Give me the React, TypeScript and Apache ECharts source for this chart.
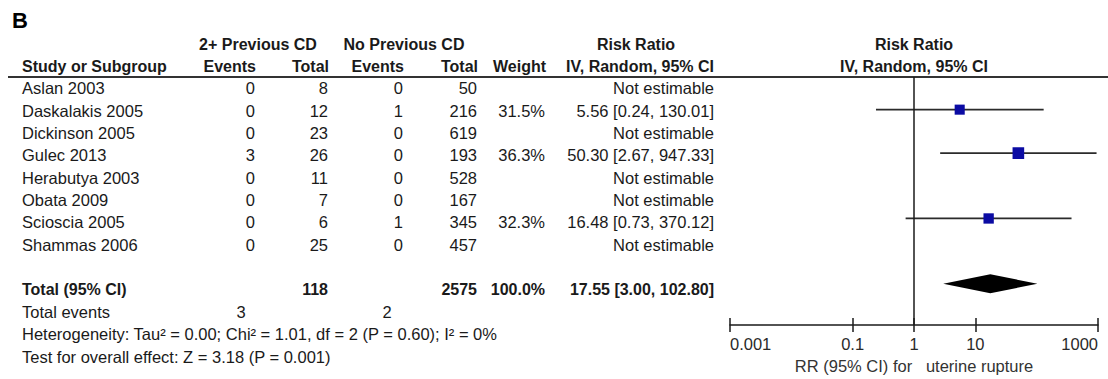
import React, { useEffect, useRef } from "react";
import * as echarts from "echarts";

// ---------- data ----------
const studies = [
  "Aslan 2003",
  "Daskalakis 2005",
  "Dickinson 2005",
  "Gulec 2013",
  "Herabutya 2003",
  "Obata 2009",
  "Scioscia 2005",
  "Shammas 2006",
];
const eventsPrev = [0, 0, 0, 3, 0, 0, 0, 0];
const totalPrev = [8, 12, 23, 26, 11, 7, 6, 25];
const eventsNone = [0, 1, 0, 0, 0, 0, 1, 0];
const totalNone = [50, 216, 619, 193, 528, 167, 345, 457];
const weights: (number | null)[] = [null, 31.5, null, 36.3, null, null, 32.3, null];
const rr: (number | null)[] = [null, 5.56, null, 50.3, null, null, 16.48, null];
const ciLow: (number | null)[] = [null, 0.24, null, 2.67, null, null, 0.73, null];
const ciHigh: (number | null)[] = [null, 130.01, null, 947.33, null, null, 370.12, null];

const pooledRR = 17.55;
const pooledLow = 3.0;
const pooledHigh = 102.8;
const pooledWeight = 100.0;
const sumTotalPrev = 118;
const sumTotalNone = 2575;
const sumEventsPrev = 3;
const sumEventsNone = 2;

const heterogeneityText =
  "Heterogeneity: Tau\u00B2 = 0.00; Chi\u00B2 = 1.01, df = 2 (P = 0.60); I\u00B2 = 0%";
const overallText = "Test for overall effect: Z = 3.18 (P = 0.001)";
const xTicks = [0.001, 0.1, 1, 10, 1000];
const xAxisTitle = "RR (95% CI) for   uterine rupture";

// ---------- layout ----------
const W = 1108;
const H = 379;
const ROW_H = 22.37;
const RULE_Y = 77;
const AXIS_Y = 332;
const FONT = "'Liberation Sans', Arial, Helvetica, sans-serif";
const REG = 16.5;
const BOLD = 16;
const TXT = "#1a1a1a";

const fmt2 = (v: number) => v.toFixed(2);
const fmtCI = (m: number, l: number, h: number) => `${fmt2(m)} [${fmt2(l)}, ${fmt2(h)}]`;

type Align = "left" | "right" | "center";

function textCol(
  x: number,
  rows: number[],
  texts: string[],
  align: Align,
  bold = false,
  size = REG,
  color = TXT
) {
  return {
    type: "custom",
    xAxisIndex: 0,
    yAxisIndex: 0,
    silent: true,
    clip: false,
    data: rows.map((r) => [x, r]),
    renderItem: (params: any, api: any) => {
      const p = api.coord([api.value(0), api.value(1)]);
      return {
        type: "text",
        x: p[0],
        y: p[1],
        style: {
          text: texts[params.dataIndex],
          align,
          verticalAlign: "middle",
          fontFamily: FONT,
          fontSize: size,
          fontWeight: bold ? "bold" : "normal",
          fill: color,
        },
      };
    },
  };
}

export default function App() {
  const ref = useRef<HTMLDivElement>(null);

  useEffect(() => {
    if (!ref.current) return;
    const chart = echarts.init(ref.current, null, { renderer: "svg" });

    const yMinRight = -0.5;
    const yMaxRight = yMinRight + (AXIS_Y - RULE_Y) / ROW_H;
    const yMinLeft = yMinRight - RULE_Y / ROW_H;
    const yMaxLeft = yMinLeft + H / ROW_H;

    const rows = studies.map((_, i) => i);
    const estRows = rows.filter((i) => rr[i] !== null);
    const TOTAL_ROW = 9;

    const series: any[] = [
      // panel letter
      textCol(12, [-3.02], ["B"], "left", true, 22, "#000"),
      // header line 1
      textCol(258, [-1.97], ["2+ Previous CD"], "center", true, BOLD),
      textCol(404, [-1.97], ["No Previous CD"], "center", true, BOLD),
      textCol(636, [-1.97], ["Risk Ratio"], "center", true, BOLD),
      textCol(914, [-1.97], ["Risk Ratio"], "center", true, BOLD),
      // header line 2
      textCol(22, [-0.95], ["Study or Subgroup"], "left", true, BOLD),
      textCol(256, [-0.95], ["Events"], "right", true, BOLD),
      textCol(329, [-0.95], ["Total"], "right", true, BOLD),
      textCol(404, [-0.95], ["Events"], "right", true, BOLD),
      textCol(478, [-0.95], ["Total"], "right", true, BOLD),
      textCol(546, [-0.95], ["Weight"], "right", true, BOLD),
      textCol(714, [-0.95], ["IV, Random, 95% CI"], "right", true, BOLD),
      textCol(914, [-0.95], ["IV, Random, 95% CI"], "center", true, BOLD),
      // study rows
      textCol(22, rows, studies, "left"),
      textCol(255, rows, eventsPrev.map(String), "right"),
      textCol(328, rows, totalPrev.map(String), "right"),
      textCol(403, rows, eventsNone.map(String), "right"),
      textCol(477, rows, totalNone.map(String), "right"),
      textCol(545, estRows, estRows.map((i) => `${(weights[i] as number).toFixed(1)}%`), "right"),
      textCol(
        714,
        rows,
        rows.map((i) =>
          rr[i] === null ? "Not estimable" : fmtCI(rr[i] as number, ciLow[i] as number, ciHigh[i] as number)
        ),
        "right"
      ),
      // total row
      textCol(22, [TOTAL_ROW], ["Total (95% CI)"], "left", true, BOLD),
      textCol(328, [TOTAL_ROW], [String(sumTotalPrev)], "right", true, BOLD),
      textCol(477, [TOTAL_ROW], [String(sumTotalNone)], "right", true, BOLD),
      textCol(545, [TOTAL_ROW], [`${pooledWeight.toFixed(1)}%`], "right", true, BOLD),
      textCol(714, [TOTAL_ROW], [fmtCI(pooledRR, pooledLow, pooledHigh)], "right", true, BOLD),
      // footer
      textCol(22, [10], ["Total events"], "left"),
      textCol(241, [10], [String(sumEventsPrev)], "center"),
      textCol(387, [10], [String(sumEventsNone)], "center"),
      textCol(22, [11], [heterogeneityText], "left"),
      textCol(22, [12], [overallText], "left"),
      // forest: study estimates
      {
        type: "custom",
        xAxisIndex: 1,
        yAxisIndex: 1,
        silent: true,
        clip: false,
        data: estRows.map((i) => [rr[i], i, ciLow[i], ciHigh[i], weights[i]]),
        renderItem: (_params: any, api: any) => {
          const c = api.coord([api.value(0), api.value(1)]);
          const l = api.coord([api.value(2), api.value(1)]);
          const h = api.coord([api.value(3), api.value(1)]);
          const s = (api.value(4) as number) * 0.32;
          return {
            type: "group",
            children: [
              {
                type: "line",
                shape: { x1: l[0], y1: c[1], x2: h[0], y2: c[1] },
                style: { stroke: "#2b2b2b", lineWidth: 1.8 },
              },
              {
                type: "rect",
                shape: { x: c[0] - s / 2, y: c[1] - s / 2, width: s, height: s },
                style: { fill: "#0b0ba3" },
              },
            ],
          };
        },
        markLine: {
          silent: true,
          symbol: "none",
          label: { show: false },
          lineStyle: { color: "#1a1a1a", width: 1.5, type: "solid" },
          data: [{ xAxis: 1 }],
        },
      },
      // forest: pooled diamond
      {
        type: "custom",
        xAxisIndex: 1,
        yAxisIndex: 1,
        silent: true,
        clip: false,
        data: [[pooledRR, TOTAL_ROW, pooledLow, pooledHigh]],
        renderItem: (_params: any, api: any) => {
          const c = api.coord([api.value(0), api.value(1)]);
          const l = api.coord([api.value(2), api.value(1)]);
          const h = api.coord([api.value(3), api.value(1)]);
          const hh = 9.5;
          return {
            type: "polygon",
            shape: {
              points: [
                [l[0], c[1]],
                [c[0], c[1] - hh],
                [h[0], c[1]],
                [c[0], c[1] + hh],
              ],
            },
            style: { fill: "#000" },
          };
        },
      },
    ];

    chart.setOption({
      animation: false,
      backgroundColor: "#ffffff",
      grid: [
        { left: 0, right: 0, top: 0, bottom: 0 },
        { left: 730, right: W - 1098, top: RULE_Y, bottom: H - AXIS_Y },
      ],
      xAxis: [
        { type: "value", gridIndex: 0, min: 0, max: W, show: false },
        {
          type: "log",
          logBase: 10,
          gridIndex: 1,
          min: 0.001,
          max: 1000,
          position: "bottom",
          offset: 0,
          axisLine: { show: true, onZero: false, lineStyle: { color: "#1a1a1a", width: 1.5 } },
          axisTick: {
            show: true,
            length: 7,
            customValues: xTicks,
            lineStyle: { color: "#1a1a1a", width: 1.5 },
          },
          axisLabel: {
            show: true,
            customValues: xTicks,
            margin: 10,
            fontFamily: FONT,
            fontSize: REG,
            color: "#2a2a2a",
            alignMinLabel: "left",
            alignMaxLabel: "right",
            formatter: (v: number) => String(Number(v.toPrecision(6))),
          },
          splitLine: { show: false },
          minorTick: { show: false },
          name: xAxisTitle,
          nameLocation: "middle",
          nameGap: 27,
          nameTextStyle: { fontFamily: FONT, fontSize: REG, color: "#333" },
        },
        {
          type: "log",
          logBase: 10,
          gridIndex: 1,
          min: 0.001,
          max: 1000,
          position: "bottom",
          offset: 0,
          axisLine: { show: false, onZero: false },
          axisTick: {
            show: true,
            inside: true,
            length: 7,
            customValues: xTicks,
            lineStyle: { color: "#1a1a1a", width: 1.5 },
          },
          axisLabel: { show: false },
          splitLine: { show: false },
        },
      ],
      yAxis: [
        { type: "value", gridIndex: 0, min: yMinLeft, max: yMaxLeft, inverse: true, show: false },
        { type: "value", gridIndex: 1, min: yMinRight, max: yMaxRight, inverse: true, show: false },
      ],
      graphic: [
        {
          type: "line",
          shape: { x1: 8, y1: RULE_Y, x2: W, y2: RULE_Y },
          style: { stroke: "#333", lineWidth: 1.8 },
          silent: true,
        },
      ],
      series,
    });

    return () => chart.dispose();
  }, []);

  return (
    <div
      ref={ref}
      style={{ position: "fixed", left: 0, top: 0, width: W, height: H, background: "#fff" }}
    />
  );
}
